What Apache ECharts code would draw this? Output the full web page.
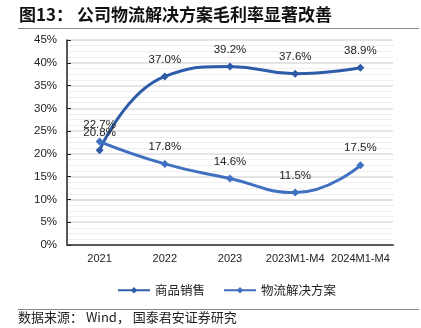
<!DOCTYPE html>
<html><head><meta charset="utf-8">
<script src="https://cdn.jsdelivr.net/npm/echarts@6/dist/echarts.min.js"></script>
<style>html,body{margin:0;padding:0;background:#fff}#c{width:421px;height:328px}</style>
</head><body><div id="c"></div>
<script>
const categories = ['2021', '2022', '2023', '2023M1-M4', '2024M1-M4'];
const salesValues = [20.8, 37.0, 39.2, 37.6, 38.9];
const logisticsValues = [22.7, 17.8, 14.6, 11.5, 17.5];
const seriesNames = ['商品销售', '物流解决方案'];
const yTicks = [0, 5, 10, 15, 20, 25, 30, 35, 40, 45];

const chart = echarts.init(document.getElementById('c'));
const cjk = '"Noto Sans CJK SC", sans-serif';
const lat = '"Liberation Sans", Arial, sans-serif';
function mkSeries(name, data, color) {
  return {
    name, type: 'line', data, smooth: 0.5,
    symbol: 'diamond', symbolSize: 8,
    lineStyle: { color, width: 3 },
    itemStyle: { color },
    label: { show: true, position: 'top', distance: 7, formatter: p => p.value.toFixed(1) + '%',
      color: '#222', fontSize: 11.5, fontFamily: lat }
  };
}
chart.setOption({
  animation: false,
  title: { text: '图13： 公司物流解决方案毛利率显著改善', left: 14, top: 1,
    textStyle: { fontFamily: cjk, fontWeight: 'bold', fontSize: 17, color: '#111' } },
  graphic: [
    { type: 'line', shape: { x1: 18, y1: 28.5, x2: 419, y2: 28.5 }, style: { stroke: '#888', lineWidth: 1 } },
    { type: 'line', shape: { x1: 18, y1: 309.5, x2: 419, y2: 309.5 }, style: { stroke: '#888', lineWidth: 1 } },
    { type: 'text', left: 18, top: 311, style: { text: '数据来源： Wind， 国泰君安证券研究', font: '13px "Noto Sans CJK SC"', fill: '#222' } }
  ],
  legend: { left: 112, top: 279, itemWidth: 32, itemHeight: 8, itemGap: 18,
    textStyle: { fontFamily: cjk, fontSize: 12.5, color: '#222' }, data: seriesNames },
  grid: { left: 67, right: 28, top: 40, bottom: 83 },
  xAxis: { type: 'category', data: categories, boundaryGap: true,
    axisLine: { lineStyle: { color: '#595959', width: 2 } }, axisTick: { show: false },
    axisLabel: { color: '#222', fontSize: 11, fontFamily: lat, margin: 8, interval: 0 } },
  yAxis: { type: 'value', min: yTicks[0], max: yTicks[yTicks.length - 1], interval: 5,
    axisLine: { show: true, lineStyle: { color: '#222', width: 1.5 } },
    axisTick: { show: true, inside: true, length: 4, lineStyle: { color: '#222' } },
    axisLabel: { formatter: '{value}%', color: '#222', fontSize: 11.5, fontFamily: lat, margin: 10 },
    splitLine: { show: true, lineStyle: { color: '#dcdcdc', width: 1.5 } },
    minorTick: { show: false, splitNumber: 4 },
    minorSplitLine: { show: true, lineStyle: { color: '#efefef', width: 1 } } },
  series: [ mkSeries(seriesNames[0], salesValues, '#2E5CA8'), mkSeries(seriesNames[1], logisticsValues, '#4070C0') ]
});
</script></body></html>
